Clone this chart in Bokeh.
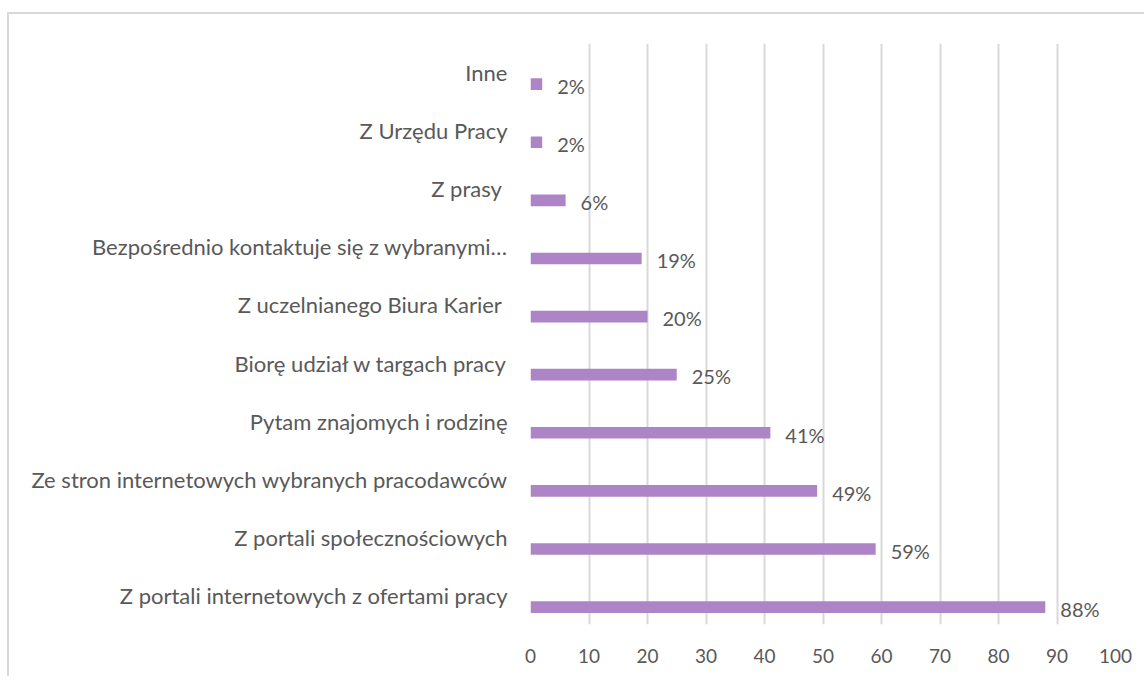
from bokeh.plotting import figure
from bokeh.models import FactorRange, ColumnDataSource, LabelSet, FixedTicker
from bokeh.transform import dodge
from bokeh.core.properties import value
from bokeh.embed import file_html
from bokeh.resources import INLINE

categories = [
    "Z portali internetowych z ofertami pracy",
    "Z portali społecznościowych",
    "Ze stron internetowych wybranych pracodawców",
    "Pytam znajomych i rodzinę",
    "Biorę udział w targach pracy",
    "Z uczelnianego Biura Karier ",
    "Bezpośrednio kontaktuje się z wybranymi…",
    "Z prasy ",
    "Z Urzędu Pracy",
    "Inne",
]
values = [88, 59, 49, 41, 25, 20, 19, 6, 2, 2]
value_labels = [f"{v}%" for v in values]
x_ticks = [0, 10, 20, 30, 40, 50, 60, 70, 80, 90, 100]

TEXT = "#595959"
FONT = "Lato"

src = ColumnDataSource(dict(cat=categories, val=values, lab=value_labels))

p = figure(
    width=1137, height=664,
    y_range=FactorRange(factors=categories),
    x_range=(0, 100),
    output_backend="svg", toolbar_location=None,
    min_border_left=521, min_border_right=31,
    min_border_top=29, min_border_bottom=54,
)
p.margin = (12, 0, 0, 7)
p.styles = {"border-left": "2px solid #d9d9d9", "border-top": "2px solid #d9d9d9"}

p.hbar(y=dodge("cat", -0.2, range=p.y_range), right="val", left=0, height=0.2,
       source=src, fill_color="#AD84C6", line_color=None)

labels = LabelSet(x="val", y=dodge("cat", -0.23, range=p.y_range), text="lab", source=src,
                  x_offset=15, text_baseline="middle", text_align="left",
                  text_color=TEXT, text_font_size="20px", text_font=value(FONT))
p.add_layout(labels)

p.outline_line_color = None
p.ygrid.grid_line_color = None
p.xgrid.grid_line_color = "#d9d9d9"
p.xgrid.grid_line_width = 2
p.xaxis.ticker = FixedTicker(ticks=x_ticks)
p.xaxis.axis_line_color = None
p.xaxis.major_tick_line_color = None
p.xaxis.minor_tick_line_color = None
p.xaxis.major_label_standoff = 18
p.xaxis.major_label_text_font = FONT
p.xaxis.major_label_text_font_size = "19px"
p.xaxis.major_label_text_color = TEXT

p.yaxis.axis_line_color = None
p.yaxis.major_tick_line_color = None
p.yaxis.major_label_standoff = 17
p.yaxis.major_label_text_font = FONT
p.yaxis.major_label_text_font_size = "22px"
p.yaxis.major_label_text_color = TEXT

open("out.html", "w").write(file_html(p, INLINE))
